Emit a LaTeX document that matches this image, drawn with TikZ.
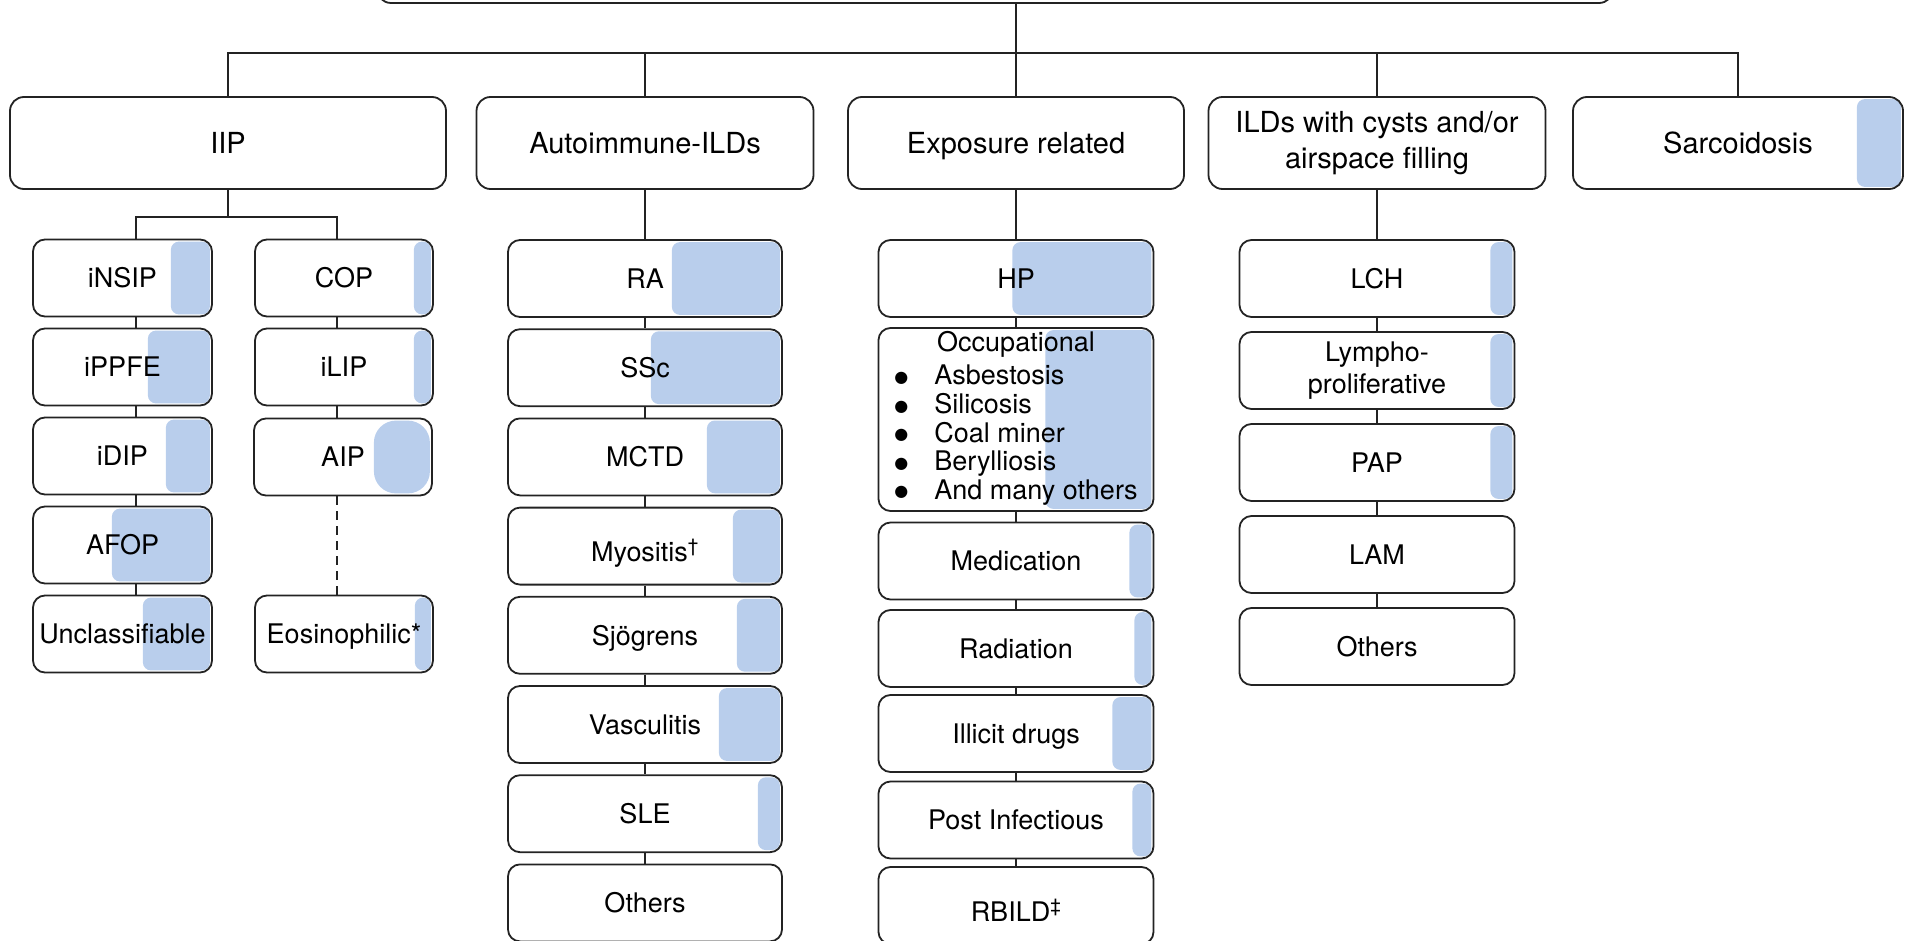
\documentclass[tikz,border=0pt]{standalone}
\usepackage{fontspec}
\setmainfont{TeX Gyre Heros}
\newfontfamily\dotfont{DejaVu Sans}
\usetikzlibrary{backgrounds}
\definecolor{barblue}{RGB}{185,206,236}
\definecolor{lineclr}{RGB}{35,35,35}
\newcommand{\blueside}[3][8]{\fill[barblue, rounded corners=#1pt] ([shift={(-#3,3)}]#2.north east) rectangle ([shift={(-3,-3)}]#2.south east);}
\newcommand{\bigdot}{\raisebox{2.5pt}{\fontsize{16}{16}\dotfont ●}}

\begin{document}
\begin{tikzpicture}[x=1pt, y=-1pt,
	catbox/.style={draw=lineclr, line width=1.8pt, rounded corners=14pt, minimum height=92pt, inner sep=0pt, align=center, font=\fontsize{29}{36}\selectfont},
	catone/.style={catbox, text height=27pt, text depth=6.1pt},
	subbox/.style={draw=lineclr, line width=1.8pt, rounded corners=12pt, minimum height=77pt, inner sep=0pt, align=center, font=\fontsize{27}{32}\selectfont},
	subone/.style={subbox, text height=25pt, text depth=5.6pt},
	subsup/.style={subbox, text height=37pt, text depth=5.6pt},
	link/.style={draw=lineclr, line width=1.8pt}]
	\useasboundingbox (0,0) rectangle (1905,941);
	\node[catbox, minimum width=1236pt, minimum height=100pt] (root) at (995,-47) {};
	\node[catone, minimum width=436pt] (iip) at (228,143) {IIP};
	\node[catone, minimum width=337pt] (auto) at (645,143) {Autoimmune-ILDs};
	\node[catone, minimum width=336pt] (expo) at (1016,143) {Exposure related};
	\node[catbox, minimum width=337pt] (cyst) at (1377,143) {ILDs with cysts and/or\\airspace filling};
	\node[catone, minimum width=330pt] (sarc) at (1738,143) {Sarcoidosis};
	\coordinate (bus) at (0,53);
	\coordinate (lcol) at (136,217);
	\coordinate (rcol) at (337,217);

	\foreach \n/\t [count=\i from 0] in {insip/iNSIP, ippfe/iPPFE, idip/iDIP, afop/AFOP, uncl/Unclassifiable}
		\node[subone, minimum width=179pt] (\n) at (122.5,{278+89*\i}) {\t};
	\node[subone, minimum width=178pt] (cop) at (344,278) {COP};
	\node[subone, minimum width=178pt] (ilip) at (344,367) {iLIP};
	\node[subone, minimum width=178pt] (aip) at (343,457) {AIP};
	\node[subone, minimum width=178pt] (eos) at (344,634) {Eosinophilic*};

	\foreach \n/\t/\s [count=\i from 0] in {ra/RA/subone, ssc/SSc/subone, mctd/MCTD/subone, myo/Myositis\textsuperscript{†}/subsup,
		sjo/Sjögrens/subone, vasc/Vasculitis/subone, sle/SLE/subone, aothers/Others/subone}
		\node[\s, minimum width=274pt] (\n) at (645,{278.5+89.2*\i}) {\t};

	\node[subone, minimum width=275pt] (hp) at (1016,278.5) {HP};
	\node[subbox, minimum width=275pt, minimum height=183pt, font=\fontsize{27}{28.5}\selectfont] (occ) at (1016,419.5)
		{\begin{tabular}{@{}l@{\hspace{26pt}}l@{}}\multicolumn{2}{c}{Occupational}\\[5pt]
		\bigdot & Asbestosis\\ \bigdot & Silicosis\\ \bigdot & Coal miner\\
		\bigdot & Berylliosis\\ \bigdot & And many others\end{tabular}};
	\foreach \n/\t/\y/\s in {med/Medication/561/subone, rad/Radiation/648.5/subone, drug/Illicit drugs/733.5/subone,
		post/Post Infectious/820/subone, rbild/RBILD\textsuperscript{‡}/905.5/subsup}
		\node[\s, minimum width=275pt] (\n) at (1016,\y) {\t};

	\node[subone, minimum width=275pt] (lch) at (1377,278.5) {LCH};
	\node[subbox, minimum width=275pt] (lympho) at (1377,370.5) {Lympho-\\proliferative};
	\foreach \n/\t/\y in {pap/PAP/462.5, lam/LAM/554.5, cothers/Others/646.5}
		\node[subone, minimum width=275pt] (\n) at (1377,\y) {\t};

	\draw[link] (root.south -| expo.north) -- (expo.north |- bus);
	\draw[link] (iip.north) -- (iip.north |- bus) -- (sarc.north |- bus) -- (sarc.north);
	\foreach \n in {auto, expo, cyst}
		\draw[link] (\n.north) -- (\n.north |- bus);

	\draw[link] (iip.south) -- (iip.south |- lcol);
	\draw[link] (insip.north -| lcol) -- (lcol) -- (rcol) -- (cop.north -| rcol);
	\foreach \a/\b in {insip/ippfe, ippfe/idip, idip/afop, afop/uncl}
		\draw[link] (\a.south -| lcol) -- (\b.north -| lcol);
	\foreach \a/\b in {cop/ilip, ilip/aip}
		\draw[link] (\a.south -| rcol) -- (\b.north -| rcol);
	\draw[link, dash pattern=on 9pt off 6pt] (aip.south -| rcol) -- (eos.north -| rcol);

	\foreach \a/\b in {auto/ra, ra/ssc, ssc/mctd, mctd/myo, myo/sjo, sjo/vasc, vasc/sle, sle/aothers,
		expo/hp, hp/occ, occ/med, med/rad, rad/drug, drug/post, post/rbild,
		cyst/lch, lch/lympho, lympho/pap, pap/lam, lam/cothers}
		\draw[link] (\a.south) -- (\b.north);

	\begin{scope}[on background layer]
		\blueside{insip}{42} \blueside{ippfe}{65} \blueside{idip}{47} \blueside{afop}{101} \blueside{uncl}{70}
		\blueside{cop}{20} \blueside{ilip}{20} \blueside[22]{aip}{59} \blueside{eos}{19}
		\blueside{ra}{111} \blueside{ssc}{132} \blueside{mctd}{76} \blueside{myo}{50}
		\blueside{sjo}{46} \blueside{vasc}{64} \blueside{sle}{25}
		\blueside{hp}{142} \blueside{occ}{109} \blueside{med}{25} \blueside{rad}{20}
		\blueside{drug}{42} \blueside{post}{22}
		\blueside{lch}{25} \blueside{lympho}{25} \blueside{pap}{25}
		\blueside{sarc}{47}
	\end{scope}
\end{tikzpicture}
\end{document}
